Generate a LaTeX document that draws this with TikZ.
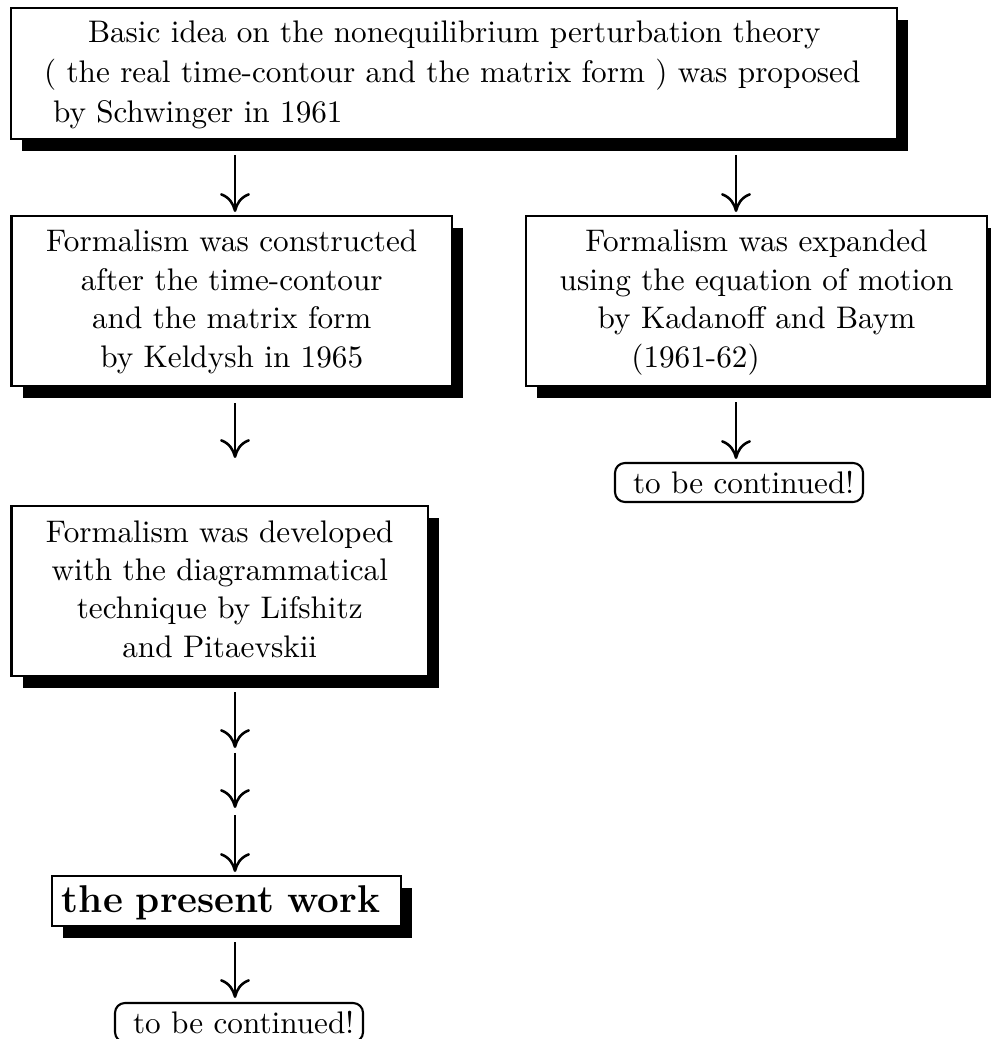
\documentclass[tikz,border=0pt]{standalone}
\usetikzlibrary{arrows.meta,shadows}
\begin{document}
\begin{tikzpicture}[x=0.33333pt,y=-0.33333pt,
  sbox/.style={draw, line width=0.9pt, fill=white, rectangle, outer sep=0pt,
    inner xsep=2pt, anchor=north west,
    drop shadow={shadow xshift=3.67pt, shadow yshift=-4pt, fill=black, opacity=1}},
  fourline/.style={align=center, inner ysep=4pt, text height=8pt, text depth=40.67pt,
    font=\fontsize{10.4pt}{12.78pt}\selectfont},
  obox/.style={draw, line width=0.7pt, rounded corners=3.3pt, fill=white, outer sep=0pt,
    anchor=north west, inner xsep=1pt, inner ysep=2pt, text height=8pt, text depth=1pt,
    text width=80.67pt, align=left, font=\fontsize{10.4pt}{12.78pt}\selectfont},
  arr/.style={line width=0.85pt, -{Computer Modern Rightarrow[length=6.3pt,width=10pt]}}]
\useasboundingbox (0,0) rectangle (990,1039);

\node[sbox, align=left, text width=291.33pt, inner ysep=3.67pt, text height=8pt, text depth=28.33pt,
  font=\fontsize{10.4pt}{13.17pt}\selectfont] (A) at (11,8)
  {\hspace*{23.67pt}Basic idea on the nonequilibrium perturbation theory\\
   \hspace*{9pt}( the real time-contour and the matrix form ) was proposed\\
   \hspace*{12pt}by Schwinger in 1961};

\node[sbox, fourline, text width=142.83pt] (B) at (11.5,216)
  {Formalism was constructed\\ after the time-contour\\ and the matrix form\\ by Keldysh in 1965};

\node[sbox, fourline, text width=149.67pt] (C) at (526,216)
  {Formalism was expanded\\ using the equation of motion\\ by Kadanoff and Baym\\ \mbox{(1961-62)\hspace{40.67pt}}};

\node[sbox, fourline, text width=134.83pt] (D) at (11.5,506)
  {Formalism was developed\\ with the diagrammatical\\ technique by Lifshitz\\ and Pitaevskii};

\node[sbox, align=left, inner xsep=3.33pt, text width=109.67pt, inner ysep=3pt, text height=9pt, text depth=1.67pt,
  font=\fontsize{12.9pt}{15pt}\selectfont\bfseries] (E) at (52,876)
  {\mbox{the present work}};

\node[obox] (G) at (615,463) {\mbox{\hspace*{5pt}to be continued!}};
\node[obox] (F) at (115,1003) {\mbox{\hspace*{5pt}to be continued!}};

\coordinate (xl) at (235,0);
\coordinate (xr) at (736,0);
\coordinate (m1) at (235,750.5);
\coordinate (m2) at (235,811.5);

\draw[arr, shorten <=5.33pt, shorten >=1.33pt] (A.south -| xl) -- (B.north -| xl);
\draw[arr, shorten <=5.33pt, shorten >=1.33pt] (A.south -| xr) -- (C.north -| xr);
\draw[arr, shorten <=5.67pt, shorten >=16pt] (B.south -| xl) -- (D.north -| xl);
\draw[arr, shorten <=5.33pt, shorten >=1.33pt] (C.south -| xr) -- (G.north -| xr);
\draw[arr, shorten <=5.33pt, shorten >=0.83pt] (D.south -| xl) -- (m1);
\draw[arr, shorten <=0.83pt, shorten >=1.17pt] (m1) -- (m2);
\draw[arr, shorten <=1.17pt, shorten >=1.33pt] (m2) -- (E.north -| xl);
\draw[arr, shorten <=5.33pt, shorten >=1.67pt] (E.south -| xl) -- (F.north -| xl);
\end{tikzpicture}
\end{document}
